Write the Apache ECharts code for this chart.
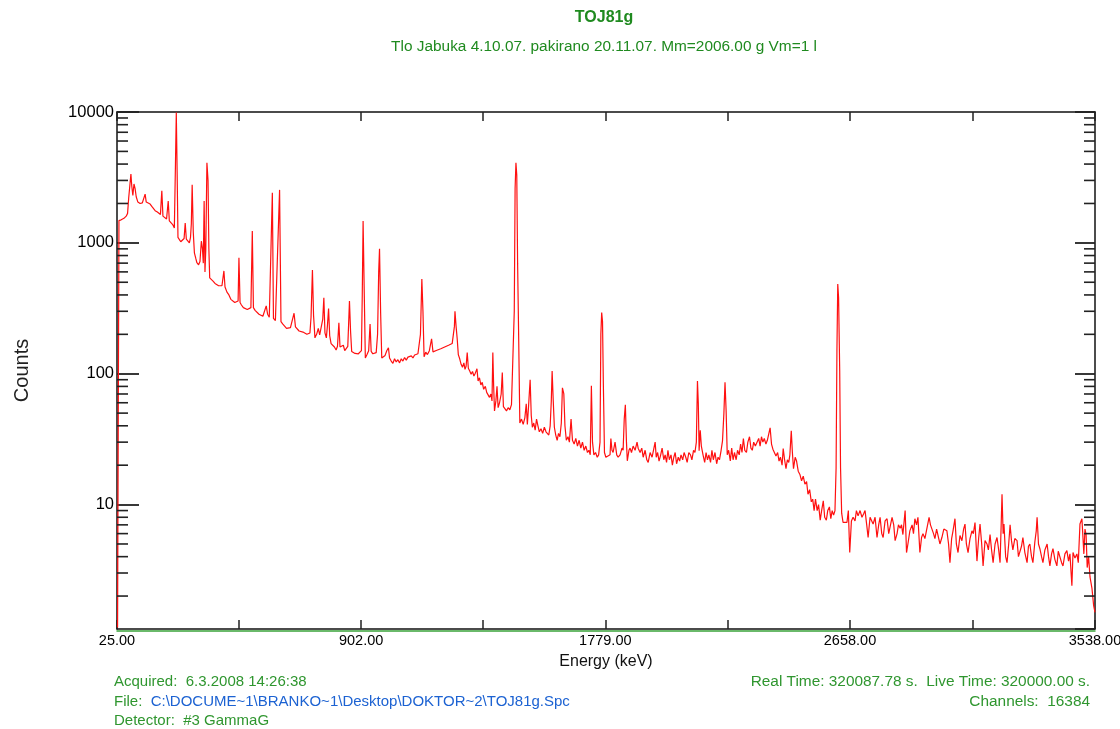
<!DOCTYPE html>
<html>
<head>
<meta charset="utf-8">
<title>TOJ81g</title>
<script src="https://cdn.jsdelivr.net/npm/echarts@6/dist/echarts.min.js"></script>
<style>
html,body{margin:0;padding:0;background:#fff;}
#chart{width:1120px;height:729px;}
</style>
</head>
<body>
<div id="chart"></div>
<script>
// ---------- data ----------
const energyKeV = [
27,32,40,50,58,63,67,71,75,78,82,86,90,94,100,108,116,122,126,130,137,144,150,156,162,170,176,181,186,190,197,203,209,213,219,225,231,235,238,241,244,249,254,260,266,270,274,279,285,289,292,295,299,303,308,312,318,323,328,332,335,338,341,344,348,352,355,358,
363,370,377,384,390,396,402,409,413,420,427,434,441,448,455,460,463,467,472,479,486,493,500,506,511,515,521,528,535,542,549,556,561,566,572,578,583,587,594,601,609,614,620,627,634,641,648,654,661,666,672,679,686,693,700,707,713,718,722,727,731,736,742,748,753,759,764,768,772,777,781,785,789,794,800,806,812,817,822,826,832,838,843,849,854,857,860,864,868,874,880,886,892,898,903,906,909,913,917,923,929,934,938,944,950,956,961,965,968,972,976,982,988,994,1000,
1004,1010,1016,1022,1028,1034,1040,1046,1052,1058,1064,1070,1076,1082,1088,1094,1100,1106,1111,1115,1120,1124,1128,1134,1140,1147,1155,1160,1167,1174,1181,1188,1195,1202,1209,1216,1222,1229,1234,1237,1239,1243,1247,1251,1256,1261,1266,1271,1275,1279,1283,1287,1292,1297,1302,1307,1312,1318,1322,1327,1332,1337,1342,1348,1353,1358,1363,1368,1372,1375,1378,1381,1386,1390,1394,1399,1405,1409,1413,1418,1424,1430,1436,1442,1448,1452,1455,1458,1461,1464,1468,1472,1478,1484,1490,1495,1499,1503,1509,1513,1517,1522,1527,1532,1537,1542,1548,1554,1560,1566,1571,1576,1581,1585,1588,1592,1596,1601,1606,1611,1616,1621,1625,1630,1634,1639,1645,1650,1656,1661,1667,1673,1679,1685,1691,1697,1703,1709,1715,1720,1725,1729,1733,1738,1744,1750,1755,1760,1763,1766,1769,1772,1776,
1781,1788,1796,1799,1803,1807,1814,1820,1825,1832,1839,1843,1847,1851,1855,1858,1864,1868,1873,1879,1886,1893,1897,1904,1910,1915,1922,1928,1933,1940,1947,1952,1958,1962,1967,1972,1978,1983,1989,1994,1999,2004,2009,2015,2020,2025,2030,2035,2041,2046,2051,2057,2062,2068,2073,2079,2085,2090,2096,2101,2106,2110,2113,2116,2120,2124,2130,2136,2141,2146,2151,2157,2162,2167,2173,2179,2184,2189,2195,2200,2205,2209,2213,2217,
2222,2228,2233,2238,2243,2249,2254,2260,2265,2270,2275,2280,2286,2291,2297,2302,2307,2312,2318,2324,2330,2335,2340,2345,2350,2356,2361,2366,2371,2376,2381,2387,2392,2398,2403,2408,2414,2418,2423,2428,2433,2438,2442,2447,2451,2455,2461,2466,2472,2478,2484,2490,2496,2502,2507,2513,2519,2524,2529,2534,2540,2545,2551,2556,2562,2567,2573,2578,2584,2589,2594,2599,2604,2608,2611,2614,2617,2621,2624,2628,
2633,2640,2647,2652,2657,2663,2669,2676,2681,2687,2694,2701,2707,2712,2718,2723,2730,2736,2741,2748,2755,2761,2766,2772,2777,2784,2791,2797,2802,2809,2815,2820,2827,2832,2838,2843,2848,2856,2861,2866,2873,2881,2886,2891,2897,2902,2909,2915,2920,2927,2934,2942,2947,2952,2958,2963,2969,2974,2981,2988,2995,3001,3006,3012,3017,3023,3028,3035,3040,3046,3053,3060,3066,3071,3076,3082,3089,3096,3101,3107,3114,3120,3125,3131,3136,3143,3150,3155,3161,3166,3172,3179,3186,3192,3197,3201,3204,3208,3211,3217,3222,3228,3233,3238,3243,3250,3258,3263,3268,3274,3279,3286,3294,3299,3304,3310,3315,3322,3327,3330,3335,3340,3346,3351,3358,3366,3371,3376,3382,3387,3394,3401,3406,3412,3418,3423,3430,3437,3443,3448,3455,3459,3466,3473,3478,3484,3491,3494,3498,3502,3506,3510,3515,3520,3527,3533,3538
];
const counts = [
1.15,1480,1500,1540,1600,1680,2200,2720,3350,2720,2300,2820,2600,2250,2050,2000,2020,1990,2360,2050,2020,1980,1900,1850,1760,1720,1690,1650,2500,1600,1560,1520,2090,1470,1420,1380,1300,4000,9900,3500,1100,1070,1020,1000,1080,1420,1070,1050,1000,1100,1400,2780,1200,840,760,705,680,720,1030,900,700,2090,600,900,4100,3000,900,540,
530,510,490,480,470,485,470,610,460,420,400,370,360,350,345,360,770,350,335,320,315,310,305,320,1230,320,305,295,285,280,275,280,330,285,270,265,2410,265,255,250,2540,250,240,232,222,220,225,232,290,228,222,212,218,208,205,200,195,205,270,620,280,188,200,222,198,202,260,380,205,188,235,315,195,170,175,160,152,162,245,160,156,165,150,152,162,240,360,210,148,150,143,148,142,145,150,400,1470,430,132,140,150,240,148,142,140,145,200,600,900,290,132,135,138,150,158,
132,125,120,130,123,128,121,130,125,133,127,134,130,137,132,139,135,142,145,200,530,300,135,146,140,150,185,147,142,151,146,155,150,160,157,165,161,170,175,230,300,230,185,140,130,118,112,121,108,114,145,110,105,99,104,96,101,109,88,93,82,86,76,80,72,74,66,70,62,145,80,52,62,80,55,60,70,102,56,55,52,55,53,58,60,300,2600,4100,3300,700,178,42,45,41,46,59,41,55,90,48,39,42,37,45,40,36,38,35,39,36,37,34,40,62,105,62,39,34,31,35,33,42,78,70,40,31,33,30,45,31,29,32,28,31,27,30,26,28,25,26,24,81,30,24,25,23,24,30,200,294,250,83,25,
23,23,24,32,26,25,30,24,23,24,27,26,45,58,30,21.6,26,27,25,28,26,30,27,25,27,23,26,22,21,25,23,26,30,23,25,21.5,24,27,22,24,21,26,22,24,20,23,25,20.5,23,21.5,24,22,25,23,21,25,24,22,26,25,30,88,60,25.8,37,28,24,21,25,22,24,21,26,22,25,20.5,23,22,26,30.7,50,86,52,24,
26,21.6,27,22,25,22,26,24,29,25,32,26,25,30,33,27,26,30,28,30,32,28,33,30,32,29,31,30,38.6,29,26.5,27,23.5,25,21.5,23,20,26.8,22,18.8,22,21,24,36.6,25,18.8,23,21.5,18,17,15.2,16.5,14.3,15,12,13,10.5,11,9,11,9,10,7.6,9,10.7,8,7.6,9,9.6,7.8,9,8.3,9,19,150,485,380,105,19,8.6,
7.3,7.5,7.3,9,4.3,7.5,8,7.5,9,8.2,9,8,8.5,9,7,5.6,8,7.5,7.1,8,5.6,7,8,6,5.6,7.5,7.8,6,5.9,8,7,5.3,6,7,6.6,7,5.9,9,4.3,5,6.3,7,6,7.8,7,8,4.3,5.6,6,5.5,5.5,8,7,7.1,6,5.5,6.5,6.3,5,5.6,6.5,6.3,6.3,5,3.6,5.5,6.3,7.8,5,4.3,5.8,5.3,6.5,7.1,5,4.3,5.5,6.3,6,7.3,3.7,5.5,7.1,5,3.4,5.3,5,4.5,5.9,4.6,3.6,5,5.6,4.5,3.6,7,12,6,7.1,4,3.6,5,7,5.3,4.5,5.5,5.3,4,3.9,4.8,5.6,4.3,3.6,4.8,5,4,3.6,5.2,6.3,8,5,4.6,4,3.6,4.5,5,4,3.4,4.2,4.6,3.8,3.4,4.4,4.45,3.6,3.4,4.2,4.45,3.7,4.2,2.4,4.3,3.9,4.2,3.6,7.1,7.8,6,4.2,6.5,5.9,3.3,4,2.8,2.3,1.7,1.5
];
const xLabelValues = [25, 902, 1779, 2658, 3538];
const xTickValues = [25, 463.5, 902, 1340.5, 1779, 2218.5, 2658, 3098, 3538];
const yMajorLabels = [10, 100, 1000, 10000];
const yMinorTicks = [2,3,4,5,6,7,8,9,20,30,40,50,60,70,80,90,200,300,400,500,600,700,800,900,2000,3000,4000,5000,6000,7000,8000,9000];

const titleText = 'TOJ81g';
const subtitleText = 'Tlo Jabuka 4.10.07. pakirano 20.11.07. Mm=2006.00 g Vm=1 l';
const footerLeft = ['Acquired:  6.3.2008 14:26:38', 'File:  ', 'C:\\DOCUME~1\\BRANKO~1\\Desktop\\DOKTOR~2\\TOJ81g.Spc', 'Detector:  #3 GammaG'];
const footerRight = ['Real Time: 320087.78 s.  Live Time: 320000.00 s.', 'Channels:  16384'];

// ---------- chart ----------
const X_MIN = 25, X_MAX = 3538, Y_MIN = 1.12, Y_MAX = 10000;
const FONT = '"Liberation Sans", Arial, sans-serif';
const GREEN = '#2f962f', DGREEN = '#1f8a1f', BLUE = '#1c62d2';

const spectrum = energyKeV.map((e, i) => [e, counts[i]]);

const chart = echarts.init(document.getElementById('chart'), null, {renderer: 'canvas'});
const option = {
  animation: false,
  backgroundColor: '#ffffff',
  grid: {left: 117, right: 25, top: 112, bottom: 100, containLabel: false, outerBoundsMode: 'none'},
  xAxis: [
    {
      type: 'value', position: 'bottom', min: X_MIN, max: X_MAX,
      name: 'Energy (keV)', nameLocation: 'middle', nameGap: 25,
      nameTextStyle: {color: '#111', fontFamily: FONT, fontSize: 16},
      axisLine: {show: true, lineStyle: {color: '#111', width: 1.5}},
      axisTick: {show: true, inside: true, length: 9, customValues: xTickValues, lineStyle: {color: '#222', width: 1.5}},
      axisLabel: {show: true, customValues: xLabelValues, margin: 4, color: '#000', fontFamily: FONT, fontSize: 14.5,
                  formatter: v => Number(v).toFixed(2)},
      splitLine: {show: false}
    },
    {
      type: 'value', position: 'top', min: X_MIN, max: X_MAX,
      axisLine: {show: true, lineStyle: {color: '#111', width: 1.5}},
      axisTick: {show: true, inside: true, length: 9, customValues: xTickValues, lineStyle: {color: '#222', width: 1.5}},
      axisLabel: {show: false},
      splitLine: {show: false}
    },
    {
      type: 'value', position: 'bottom', offset: 2, min: X_MIN, max: X_MAX,
      axisLine: {show: true, lineStyle: {color: '#3aa23a', width: 1.5}},
      axisTick: {show: false}, axisLabel: {show: false}, splitLine: {show: false}
    }
  ],
  yAxis: [
    {
      type: 'log', logBase: 10, position: 'left', min: Y_MIN, max: Y_MAX,
      name: 'Counts', nameLocation: 'middle', nameRotate: 90, nameGap: 85,
      nameTextStyle: {color: '#222', fontFamily: FONT, fontSize: 20},
      axisLine: {show: true, lineStyle: {color: '#111', width: 1.5}},
      axisTick: {show: true, inside: true, length: 22, lineStyle: {color: '#222', width: 1.8}},
      axisLabel: {show: true, margin: 3, color: '#000', fontFamily: FONT, fontSize: 16.5, showMinLabel: false,
                  formatter: v => yMajorLabels.some(m => Math.abs(m - v) < 1e-6 * m) ? String(Math.round(v)) : ''},
      splitLine: {show: false}
    },
    {
      type: 'log', logBase: 10, position: 'right', min: Y_MIN, max: Y_MAX,
      axisLine: {show: true, lineStyle: {color: '#111', width: 1.5}},
      axisTick: {show: true, inside: true, length: 20, lineStyle: {color: '#222', width: 1.8}},
      axisLabel: {show: false},
      splitLine: {show: false}
    }
  ],
  series: [
    {
      type: 'line', xAxisIndex: 0, yAxisIndex: 0,
      data: spectrum, showSymbol: false, symbol: 'none', smooth: false,
      lineStyle: {color: '#ff1010', width: 1.2}, silent: true, z: 3
    },
    {
      type: 'custom', xAxisIndex: 0, yAxisIndex: 0, silent: true, clip: false, z: 4,
      data: yMinorTicks.map(v => [X_MIN, v]),
      renderItem: (params, api) => {
        const v = api.value(1);
        const pL = api.coord([X_MIN, v]);
        const pR = api.coord([X_MAX, v]);
        return {
          type: 'group',
          children: [
            {type: 'line', shape: {x1: pL[0], y1: pL[1], x2: pL[0] + 11, y2: pL[1]}, style: {stroke: '#222', lineWidth: 1.6}},
            {type: 'line', shape: {x1: pR[0], y1: pR[1], x2: pR[0] - 11, y2: pR[1]}, style: {stroke: '#222', lineWidth: 1.6}}
          ]
        };
      }
    }
  ],
  graphic: [
    {type: 'text', x: 604, y: 18, style: {text: titleText, fill: DGREEN, font: 'bold 16px ' + FONT, textAlign: 'center', textVerticalAlign: 'middle'}},
    {type: 'text', x: 604, y: 47, style: {text: subtitleText, fill: DGREEN, font: '15.4px ' + FONT, textAlign: 'center', textVerticalAlign: 'middle'}},
    {type: 'text', x: 114, y: 682, style: {text: footerLeft[0], fill: GREEN, font: '15px ' + FONT, textVerticalAlign: 'middle'}},
    {type: 'text', x: 114, y: 702, style: {
      text: '{g|' + footerLeft[1] + '}{b|' + footerLeft[2] + '}',
      font: '15px ' + FONT, textVerticalAlign: 'middle',
      rich: {g: {fill: GREEN, font: '15px ' + FONT}, b: {fill: BLUE, font: '15px ' + FONT}}
    }},
    {type: 'text', x: 114, y: 721, style: {text: footerLeft[3], fill: GREEN, font: '15px ' + FONT, textVerticalAlign: 'middle'}},
    {type: 'text', x: 1090, y: 682, style: {text: footerRight[0], fill: GREEN, font: '15.4px ' + FONT, textAlign: 'right', textVerticalAlign: 'middle'}},
    {type: 'text', x: 1090, y: 702, style: {text: footerRight[1], fill: GREEN, font: '15.4px ' + FONT, textAlign: 'right', textVerticalAlign: 'middle'}}
  ]
};
chart.setOption(option);
</script>
</body>
</html>
